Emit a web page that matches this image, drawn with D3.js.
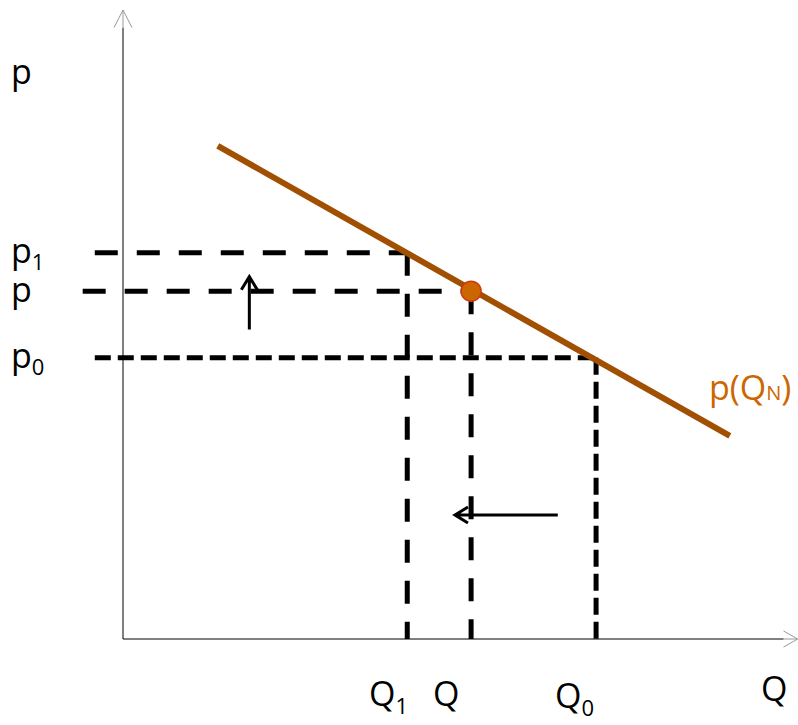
<!DOCTYPE html>
<html><head><meta charset="utf-8">
<script src="https://cdn.jsdelivr.net/npm/d3@7"></script>
<style>body{margin:0;background:#fff}svg{display:block}text{font-family:"Open Sans",sans-serif}</style>
</head><body><svg id="c" width="798" height="725"></svg>
<script>
// Data (abstract units)
const qLevels = [{name:"Q", sub:"1", q:4.23, p:6.14, style:"long"},
                 {name:"Q", sub:"",  q:5.18, p:5.53, style:"long"},
                 {name:"Q", sub:"0", q:7.04, p:4.47, style:"short"}];
const pLabels = [{name:"p", sub:"1", p:6.14, start:-0.42},
                 {name:"p", sub:"",  p:5.53, start:-0.60},
                 {name:"p", sub:"0", p:4.47, start:-0.42}];
const demand = [{q:1.41, p:7.84},{q:9.03, p:3.23}];
const equilibrium = {q:5.18, p:5.53};
const upArrow = {q:1.88, from:4.92, to:5.76};
const leftArrow = {p:1.97, from:6.47, to:4.94};

const svg = d3.select("#c");
const x = d3.scaleLinear().domain([0,10]).range([123,795]);
const y = d3.scaleLinear().domain([0,10]).range([639,10]);
const ink = "#000", brown = "#a05000", orange = "#cc6600";
const FS = 34, SFS = 22;

// Axes
svg.append("line").attr("x1",x(0)).attr("x2",x(0)).attr("y1",y(0)).attr("y2",y(9.72)).attr("stroke",ink).attr("stroke-width",1);
svg.append("path").attr("d",`M${x(0)-9},${y(9.72)}L${x(0)},${y(10)}L${x(0)+9},${y(9.72)}M${x(0)},${y(10)}V${y(9.72)}`).attr("fill","none").attr("stroke","#999").attr("stroke-width",1);
svg.append("line").attr("x1",x(0)).attr("x2",x(9.83)).attr("y1",y(0)).attr("y2",y(0)).attr("stroke",ink).attr("stroke-width",1);
svg.append("path").attr("d",`M${x(9.83)},${y(0)-8}L${x(10.04)},${y(0)}L${x(9.83)},${y(0)+8}M${x(9.83)},${y(0)}H${x(10.04)}`).attr("fill","none").attr("stroke","#999").attr("stroke-width",1);

// Horizontal dashed guides
pLabels.forEach((d,i)=>{
  const lvl = qLevels[i];
  svg.append("line").attr("x1",x(d.start)).attr("x2",x(lvl.q)).attr("y1",y(d.p)).attr("y2",y(d.p))
    .attr("stroke",ink).attr("stroke-width",5)
    .attr("stroke-dasharray", lvl.style==="short" ? "16,7" : "23,19");
});
// Vertical dashed guides
qLevels.forEach(d=>{
  svg.append("line").attr("x1",x(d.q)).attr("x2",x(d.q)).attr("y1",y(d.p)).attr("y2",y(0))
    .attr("stroke",ink).attr("stroke-width",5)
    .attr("stroke-dasharray", d.style==="short" ? "17,7" : "23,18");
});

// Demand line
svg.append("line").attr("x1",x(demand[0].q)).attr("y1",y(demand[0].p)).attr("x2",x(demand[1].q)).attr("y2",y(demand[1].p))
  .attr("stroke",brown).attr("stroke-width",6);

// Equilibrium point
svg.append("circle").attr("cx",x(equilibrium.q)).attr("cy",y(equilibrium.p)).attr("r",10)
  .attr("fill",orange).attr("stroke","#d03a10").attr("stroke-width",1.5);

// Arrows
const ux = x(upArrow.q), uy1 = y(upArrow.from), uy2 = y(upArrow.to);
svg.append("path").attr("d",`M${ux},${uy1}V${uy2+1}M${ux-8},${uy2+13}L${ux},${uy2}L${ux+8},${uy2+13}`)
  .attr("fill","none").attr("stroke",ink).attr("stroke-width",3);
const ly = y(leftArrow.p), lx1 = x(leftArrow.from), lx2 = x(leftArrow.to);
svg.append("path").attr("d",`M${lx1},${ly}H${lx2+1}M${lx2+13},${ly-8}L${lx2},${ly}L${lx2+13},${ly+8}`)
  .attr("fill","none").attr("stroke",ink).attr("stroke-width",3);

// Labels
svg.append("text").attr("x",11).attr("y",84).attr("font-size",FS).attr("fill",ink).text("p");
pLabels.forEach((d,i)=>{
  const yy = y(d.p) + [10,11,10][i];
  const t = svg.append("text").attr("x",11).attr("y",yy).attr("font-size",FS).attr("fill",ink);
  t.append("tspan").text(d.name);
  if(d.sub) t.append("tspan").attr("font-size",SFS).attr("dy",7).text(d.sub);
});
const qx = [369, 433, 555];
qLevels.forEach((d,i)=>{
  const t = svg.append("text").attr("x",qx[i]).attr("y",i===2?708:706).attr("font-size",FS).attr("fill",ink);
  t.append("tspan").text(d.name);
  if(d.sub) t.append("tspan").attr("font-size",SFS).attr("dy",8).text(d.sub);
});
svg.append("text").attr("x",761).attr("y",701).attr("font-size",FS).attr("fill",ink).text("Q");
const pq = svg.append("text").attr("x",709).attr("y",400).attr("font-size",FS).attr("fill",orange);
pq.append("tspan").text("p(Q");
pq.append("tspan").attr("font-size",20).text("N");
pq.append("tspan").text(")");
</script></body></html>
